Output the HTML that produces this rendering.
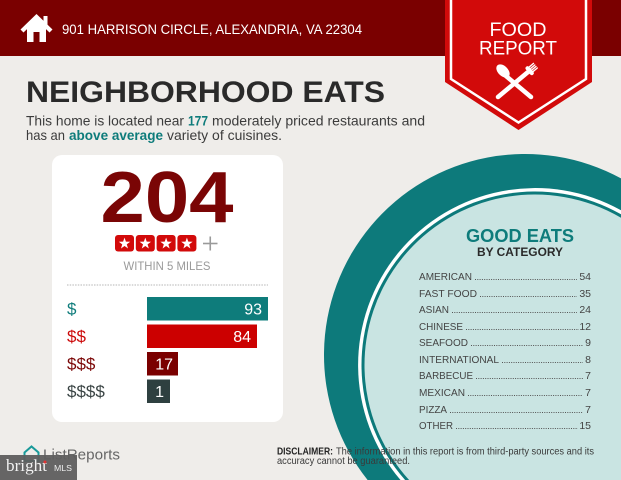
<!DOCTYPE html>
<html><head><meta charset="utf-8"><style>
html,body{margin:0;padding:0;background:#efedea;width:621px;height:480px;overflow:hidden;}
svg{display:block;}
text{font-family:"Liberation Sans",sans-serif;}
</style></head><body>
<svg width="621" height="480" viewBox="0 0 621 480" xmlns="http://www.w3.org/2000/svg">
<rect x="0" y="0" width="621" height="480" fill="#efedea"/>
<!-- header -->
<rect x="0" y="0" width="621" height="56" fill="#7a0000"/>
<!-- house icon -->
<g fill="#fff">
<rect x="43.5" y="16" width="4" height="9"/>
<polygon points="20.5,29.5 36.5,14 52.5,29.5 49.5,32.5 36.5,20 23.5,32.5"/>
<polygon points="27,28 36.5,19 46,28 46,42 27,42"/>
</g>
<rect x="33.5" y="32" width="6" height="10" fill="#7a0000"/>
<text x="62" y="34" font-size="14" fill="#fff" textLength="300" lengthAdjust="spacingAndGlyphs">901 HARRISON CIRCLE, ALEXANDRIA, VA 22304</text>

<!-- ribbon -->
<polygon points="445,0 592,0 592,82 518.5,130 445,82" fill="#d20a0a"/>
<polyline points="451,0 451,79 518.5,122.5 586,79 586,0" fill="none" stroke="#fff" stroke-width="2.5"/>
<text x="518" y="36" font-size="19" fill="#fff" text-anchor="middle" textLength="57" lengthAdjust="spacingAndGlyphs">FOOD</text>
<text x="518" y="54.5" font-size="19" fill="#fff" text-anchor="middle" textLength="78" lengthAdjust="spacingAndGlyphs">REPORT</text>
<!-- spoon & fork -->
<g stroke="#fff" stroke-linecap="round" fill="none">
<line x1="506" y1="76" x2="531" y2="97" stroke-width="4.5"/>
<line x1="528" y1="72" x2="498" y2="97" stroke-width="4.5"/>
<line x1="527.5" y1="68.2" x2="531.8" y2="73.1" stroke-width="4"/>
<line x1="526.6" y1="69.2" x2="533.5" y2="63.4" stroke-width="1.4"/>
<line x1="527.9" y1="70.7" x2="534.8" y2="65" stroke-width="1.4"/>
<line x1="529.1" y1="72.3" x2="536" y2="66.5" stroke-width="1.4"/>
<line x1="530.4" y1="73.8" x2="537.3" y2="68" stroke-width="1.4"/>
</g>
<ellipse cx="503" cy="71" rx="5" ry="8" fill="#fff" transform="rotate(-45 503 71)"/>

<!-- title -->
<text x="26" y="102" font-size="30" font-weight="bold" fill="#2a2a2a" textLength="359" lengthAdjust="spacingAndGlyphs">NEIGHBORHOOD EATS</text>
<g font-size="14" fill="#3c3c3c">
<text x="26" y="125.5" textLength="158" lengthAdjust="spacingAndGlyphs">This home is located near</text>
<text x="188" y="125.5" font-weight="bold" fill="#0e7c7b" textLength="20" lengthAdjust="spacingAndGlyphs">177</text>
<text x="212" y="125.5" textLength="213" lengthAdjust="spacingAndGlyphs">moderately priced restaurants and</text>
<text x="26" y="140" textLength="39" lengthAdjust="spacingAndGlyphs">has an</text>
<text x="69" y="140" font-weight="bold" fill="#0e7c7b" textLength="94" lengthAdjust="spacingAndGlyphs">above average</text>
<text x="167" y="140" textLength="115" lengthAdjust="spacingAndGlyphs">variety of cuisines.</text>
</g>

<!-- circle (pre-clipped to frame) -->
<path d="M367.6,480 A201,201 0 0 1 621,178.4 L621,480 Z" fill="#0d7a7b"/>
<path d="M400.5,480 A177,177 0 0 1 621,210.3 L621,480 Z" fill="#ffffff"/>
<path d="M405.1,480 A173.5,173.5 0 0 1 621,214.3 L621,480 Z" fill="#0d7a7b"/>
<path d="M409.1,480 A170.5,170.5 0 0 1 621,217.8 L621,480 Z" fill="#c9e4e2"/>

<text x="520" y="242" font-size="18" font-weight="bold" fill="#0e7c7b" text-anchor="middle" textLength="108" lengthAdjust="spacingAndGlyphs">GOOD EATS</text>
<text x="520" y="256" font-size="12" font-weight="bold" fill="#2a2a2a" text-anchor="middle" textLength="86" lengthAdjust="spacingAndGlyphs">BY CATEGORY</text>

<g font-size="10.5" fill="#444">
<text x="419" y="280" textLength="53" lengthAdjust="spacingAndGlyphs">AMERICAN</text><text x="591" y="280" text-anchor="end">54</text>
<text x="419" y="297" textLength="58" lengthAdjust="spacingAndGlyphs">FAST FOOD</text><text x="591" y="297" text-anchor="end">35</text>
<text x="419" y="313" textLength="30" lengthAdjust="spacingAndGlyphs">ASIAN</text><text x="591" y="313" text-anchor="end">24</text>
<text x="419" y="330" textLength="44" lengthAdjust="spacingAndGlyphs">CHINESE</text><text x="591" y="330" text-anchor="end">12</text>
<text x="419" y="346" textLength="49" lengthAdjust="spacingAndGlyphs">SEAFOOD</text><text x="591" y="346" text-anchor="end">9</text>
<text x="419" y="363" textLength="80" lengthAdjust="spacingAndGlyphs">INTERNATIONAL</text><text x="591" y="363" text-anchor="end">8</text>
<text x="419" y="379" textLength="54" lengthAdjust="spacingAndGlyphs">BARBECUE</text><text x="591" y="379" text-anchor="end">7</text>
<text x="419" y="396" textLength="46" lengthAdjust="spacingAndGlyphs">MEXICAN</text><text x="591" y="396" text-anchor="end">7</text>
<text x="419" y="413" textLength="28" lengthAdjust="spacingAndGlyphs">PIZZA</text><text x="591" y="413" text-anchor="end">7</text>
<text x="419" y="429" textLength="34" lengthAdjust="spacingAndGlyphs">OTHER</text><text x="591" y="429" text-anchor="end">15</text>
</g>
<g stroke="#555" stroke-width="0.9" stroke-dasharray="1 1.3">
<line x1="475" y1="279.5" x2="577" y2="279.5"/>
<line x1="480" y1="296.5" x2="577" y2="296.5"/>
<line x1="452" y1="312.5" x2="577" y2="312.5"/>
<line x1="466" y1="329.5" x2="579" y2="329.5"/>
<line x1="471" y1="345.5" x2="583" y2="345.5"/>
<line x1="502" y1="362.5" x2="583" y2="362.5"/>
<line x1="476" y1="378.5" x2="583" y2="378.5"/>
<line x1="468" y1="395.5" x2="583" y2="395.5"/>
<line x1="450" y1="412.5" x2="583" y2="412.5"/>
<line x1="456" y1="428.5" x2="578" y2="428.5"/>
</g>

<!-- card -->
<rect x="52" y="155" width="231" height="267" rx="10" fill="#ffffff"/>
<text x="167" y="222" font-size="72" font-weight="bold" fill="#7a0505" text-anchor="middle" textLength="133" lengthAdjust="spacingAndGlyphs">204</text>
<g>
<rect x="115" y="235" width="19" height="16.5" rx="3" fill="#d20a0a"/>
<rect x="135.8" y="235" width="19" height="16.5" rx="3" fill="#d20a0a"/>
<rect x="156.6" y="235" width="19" height="16.5" rx="3" fill="#d20a0a"/>
<rect x="177.4" y="235" width="19" height="16.5" rx="3" fill="#d20a0a"/>
<g fill="#fff">
<path transform="translate(124.5 243.6)" d="M0,-6 L1.41,-1.94 L5.71,-1.85 L2.28,0.74 L3.53,4.85 L0,2.4 L-3.53,4.85 L-2.28,0.74 L-5.71,-1.85 L-1.41,-1.94 Z"/>
<path transform="translate(145.3 243.6)" d="M0,-6 L1.41,-1.94 L5.71,-1.85 L2.28,0.74 L3.53,4.85 L0,2.4 L-3.53,4.85 L-2.28,0.74 L-5.71,-1.85 L-1.41,-1.94 Z"/>
<path transform="translate(166.1 243.6)" d="M0,-6 L1.41,-1.94 L5.71,-1.85 L2.28,0.74 L3.53,4.85 L0,2.4 L-3.53,4.85 L-2.28,0.74 L-5.71,-1.85 L-1.41,-1.94 Z"/>
<path transform="translate(186.9 243.6)" d="M0,-6 L1.41,-1.94 L5.71,-1.85 L2.28,0.74 L3.53,4.85 L0,2.4 L-3.53,4.85 L-2.28,0.74 L-5.71,-1.85 L-1.41,-1.94 Z"/>
</g>
</g>
<g stroke="#9a9a9a" stroke-width="1.6">
<line x1="203" y1="243.5" x2="217.5" y2="243.5"/>
<line x1="210.25" y1="236.5" x2="210.25" y2="250.5"/>
</g>
<text x="167" y="270" font-size="12" fill="#9a9a9a" text-anchor="middle" textLength="87" lengthAdjust="spacingAndGlyphs">WITHIN 5 MILES</text>
<line x1="67" y1="285" x2="268" y2="285" stroke="#b5b5b5" stroke-width="1" stroke-dasharray="1.5 1.2"/>

<g font-size="17">
<text x="67" y="314.5" fill="#0e7c7b">$</text>
<text x="67" y="342" fill="#cc0a0a">$$</text>
<text x="67" y="369.5" fill="#7a0505">$$$</text>
<text x="67" y="397" fill="#3a4444">$$$$</text>
</g>
<rect x="147" y="297" width="121" height="23.5" fill="#0e7c7b"/>
<rect x="147" y="324.5" width="110" height="23.5" fill="#cc0000"/>
<rect x="147" y="352" width="31" height="23.5" fill="#7a0000"/>
<rect x="147" y="379.5" width="23" height="23.5" fill="#2e4040"/>
<g font-size="16" fill="#fff" text-anchor="end">
<text x="262" y="314.5">93</text>
<text x="251" y="342">84</text>
<text x="173" y="369.5">17</text>
<text x="164" y="397">1</text>
</g>

<!-- disclaimer -->
<g font-size="10" fill="#3a3a3a">
<text x="277" y="454.5" font-weight="bold" fill="#222" textLength="56" lengthAdjust="spacingAndGlyphs">DISCLAIMER:</text>
<text x="336" y="454.5" textLength="258" lengthAdjust="spacingAndGlyphs">The information in this report is from third-party sources and its</text>
<text x="277" y="464" textLength="133" lengthAdjust="spacingAndGlyphs">accuracy cannot be guaranteed.</text>
</g>

<!-- ListReports logo -->
<path d="M24.5,452.5 L31.5,446.5 L38.5,452.5 L38.5,461 L24.5,461 Z" fill="none" stroke="#1a9a9a" stroke-width="2"/>
<text x="43" y="459.5" font-size="15" fill="#666" textLength="77" lengthAdjust="spacingAndGlyphs">ListReports</text>
<rect x="0" y="455" width="77" height="25" fill="#5e5e5e" fill-opacity="0.95"/>
<text x="6" y="471" style="font-family:'Liberation Serif',serif" font-size="17" fill="#f2f2f2" textLength="41" lengthAdjust="spacingAndGlyphs">bright</text>
<circle cx="45" cy="462" r="1.5" fill="#d33"/>
<text x="54" y="471" font-size="8.5" fill="#eee" textLength="18" lengthAdjust="spacingAndGlyphs">MLS</text>
</svg>
</body></html>
